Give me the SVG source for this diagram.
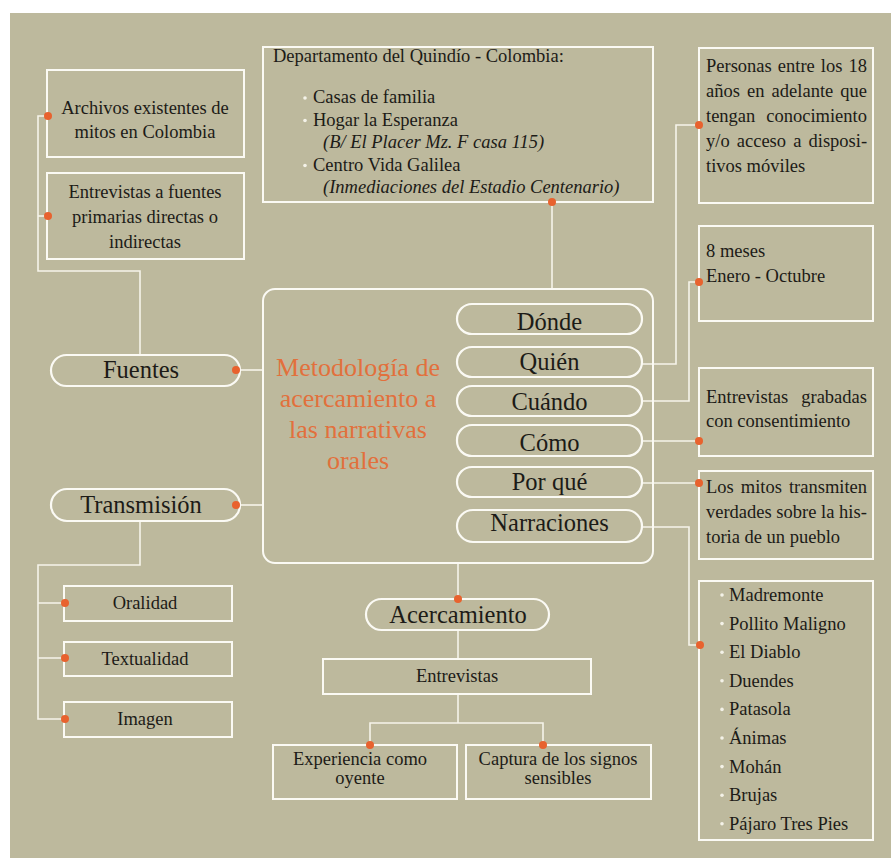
<svg xmlns="http://www.w3.org/2000/svg" width="891" height="858" viewBox="0 0 891 858">
<style>
.bg{fill:#bdb99d}
.box{fill:none;stroke:#fbfaf4;stroke-width:2}
.pill{fill:none;stroke:#fbfaf4;stroke-width:2.2}
.con{fill:none;stroke:#f6f4ea;stroke-width:1.6}
.dot{fill:#e8622e}
.t{font-family:"Liberation Serif","Times New Roman",serif;font-size:18.5px;fill:#1c1b17}
.c{text-anchor:middle}
.big{font-size:24.5px}
.it{font-style:italic}
.title{font-family:"Liberation Serif","Times New Roman",serif;font-size:26px;fill:#e2703c;text-anchor:middle}
.bul{fill:#f4f2e8}
</style>
<rect x="0" y="0" width="891" height="858" fill="#ffffff"/>
<rect class="bg" x="10" y="13" width="881" height="845"/>

<g id="connectors">
<path class="con" d="M48,116 H38 V271 H140 V355"/>
<path class="con" d="M38,216 H48"/>
<path class="con" d="M236,370 H263"/>
<path class="con" d="M236,505 H263"/>
<path class="con" d="M140,521 V565 H38 V719 H65"/>
<path class="con" d="M38,603 H65 M38,658 H65"/>
<path class="con" d="M552,202 V289"/>
<path class="con" d="M642,364 H676 V125 H699"/>
<path class="con" d="M642,401 H689 V282 H699"/>
<path class="con" d="M642,441 H699"/>
<path class="con" d="M642,483 H699"/>
<path class="con" d="M642,527 H689 V645 H699"/>
<path class="con" d="M458,563 V599 M458,630 V659 M458,694 V723 M370,745 V723 H543 V745"/>
</g>

<g id="archivos">
<rect class="box" x="47" y="70" width="197" height="87"/>
<text class="t c" x="145" y="114">Archivos existentes de</text>
<text class="t c" x="145" y="138">mitos en Colombia</text>
</g>
<g id="entrevistas-fuentes">
<rect class="box" x="47" y="173" width="197" height="86"/>
<text class="t c" x="145" y="198">Entrevistas a fuentes</text>
<text class="t c" x="145" y="223">primarias directas o</text>
<text class="t c" x="145" y="248">indirectas</text>
</g>

<g id="departamento">
<rect class="box" x="263" y="47" width="390" height="155"/>
<text class="t" x="273" y="62">Departamento del Quindío - Colombia:</text>
<circle class="bul" cx="305" cy="98" r="1.8"/>
<text class="t" x="313" y="103">Casas de familia</text>
<circle class="bul" cx="305" cy="120.5" r="1.8"/>
<text class="t" x="313" y="125.5">Hogar la Esperanza</text>
<text class="t it" x="323" y="148">(B/ El Placer Mz. F casa 115)</text>
<circle class="bul" cx="305" cy="165.5" r="1.8"/>
<text class="t" x="313" y="170.5">Centro Vida Galilea</text>
<text class="t it" x="323" y="193">(Inmediaciones del Estadio Centenario)</text>
</g>

<g id="personas">
<rect class="box" x="699" y="48" width="174" height="155"/>
<text class="t" x="706" y="72" word-spacing="1.4">Personas entre los 18</text>
<text class="t" x="706" y="97" word-spacing="2.5">años en adelante que</text>
<text class="t" x="706" y="122" word-spacing="6.3">tengan conocimiento</text>
<text class="t" x="706" y="147" word-spacing="2.5">y/o acceso a disposi-</text>
<text class="t" x="706" y="172">tivos móviles</text>
</g>

<g id="meses">
<rect class="box" x="699" y="226" width="174" height="95"/>
<text class="t" x="706" y="257">8 meses</text>
<text class="t" x="706" y="282">Enero - Octubre</text>
</g>

<g id="metodologia">
<rect class="box" x="263" y="289" width="390" height="274" rx="12"/>
<text class="title" x="358" y="376">Metodología de</text>
<text class="title" x="358" y="407">acercamiento a</text>
<text class="title" x="358" y="438">las narrativas</text>
<text class="title" x="358" y="469">orales</text>
</g>

<g id="donde">
<rect class="pill" x="457" y="304" width="185" height="30" rx="15"/>
<text class="t c big" x="549.5" y="330">Dónde</text>
</g>
<g id="quien">
<rect class="pill" x="457" y="347" width="185" height="30" rx="15"/>
<text class="t c big" x="549.5" y="370">Quién</text>
</g>
<g id="cuando">
<rect class="pill" x="457" y="386" width="185" height="30" rx="15"/>
<text class="t c big" x="549.5" y="410">Cuándo</text>
</g>
<g id="como">
<rect class="pill" x="457" y="425" width="185" height="31" rx="15"/>
<text class="t c big" x="549.5" y="451">Cómo</text>
</g>
<g id="porque">
<rect class="pill" x="457" y="467" width="185" height="30" rx="15"/>
<text class="t c big" x="549.5" y="490">Por qué</text>
</g>
<g id="narraciones">
<rect class="pill" x="457" y="510" width="185" height="32" rx="16"/>
<text class="t c big" x="549.5" y="531">Narraciones</text>
</g>

<g id="fuentes">
<rect class="pill" x="51" y="355" width="189" height="31" rx="15.5"/>
<text class="t c big" x="141" y="378">Fuentes</text>
</g>
<g id="transmision">
<rect class="pill" x="51" y="489" width="189" height="32" rx="16"/>
<text class="t c big" x="141" y="513">Transmisión</text>
</g>

<g id="oralidad">
<rect class="box" x="64" y="586" width="168" height="35"/>
<text class="t c" x="145" y="609">Oralidad</text>
</g>
<g id="textualidad">
<rect class="box" x="64" y="642" width="168" height="34"/>
<text class="t c" x="145" y="665">Textualidad</text>
</g>
<g id="imagen">
<rect class="box" x="64" y="702" width="168" height="35"/>
<text class="t c" x="145" y="725">Imagen</text>
</g>

<g id="entrevistas-grabadas">
<rect class="box" x="699" y="368" width="174" height="88"/>
<text class="t" x="706" y="403" word-spacing="8.4">Entrevistas grabadas</text>
<text class="t" x="706" y="427">con consentimiento</text>
</g>

<g id="los-mitos">
<rect class="box" x="699" y="471" width="174" height="88"/>
<text class="t" x="706" y="493" word-spacing="2.4">Los mitos transmiten</text>
<text class="t" x="706" y="518">verdades sobre la his-</text>
<text class="t" x="706" y="543">toria de un pueblo</text>
</g>

<g id="lista-mitos">
<rect class="box" x="699" y="581" width="174" height="259"/>
<circle class="bul" cx="722" cy="595" r="1.8"/>
<text class="t" x="729" y="601">Madremonte</text>
<circle class="bul" cx="722" cy="623.6" r="1.8"/>
<text class="t" x="729" y="629.6">Pollito Maligno</text>
<circle class="bul" cx="722" cy="652.2" r="1.8"/>
<text class="t" x="729" y="658.2">El Diablo</text>
<circle class="bul" cx="722" cy="680.8" r="1.8"/>
<text class="t" x="729" y="686.8">Duendes</text>
<circle class="bul" cx="722" cy="709.4" r="1.8"/>
<text class="t" x="729" y="715.4">Patasola</text>
<circle class="bul" cx="722" cy="738" r="1.8"/>
<text class="t" x="729" y="744">Ánimas</text>
<circle class="bul" cx="722" cy="766.6" r="1.8"/>
<text class="t" x="729" y="772.6">Mohán</text>
<circle class="bul" cx="722" cy="795.2" r="1.8"/>
<text class="t" x="729" y="801.2">Brujas</text>
<circle class="bul" cx="722" cy="823.8" r="1.8"/>
<text class="t" x="729" y="829.8">Pájaro Tres Pies</text>
</g>

<g id="acercamiento">
<rect class="pill" x="366" y="599" width="183" height="31" rx="15.5"/>
<text class="t c big" x="458" y="623">Acercamiento</text>
</g>
<g id="entrevistas">
<rect class="box" x="323" y="659" width="268" height="35"/>
<text class="t c" x="457" y="682">Entrevistas</text>
</g>
<g id="experiencia">
<rect class="box" x="273" y="745" width="184" height="54"/>
<text class="t c" x="360" y="765">Experiencia como</text>
<text class="t c" x="360" y="784">oyente</text>
</g>
<g id="captura">
<rect class="box" x="466" y="745" width="185" height="54"/>
<text class="t c" x="558" y="765">Captura de los signos</text>
<text class="t c" x="558" y="784">sensibles</text>
</g>

<g id="dots">
<circle class="dot" cx="48" cy="116" r="4"/>
<circle class="dot" cx="48" cy="216" r="4"/>
<circle class="dot" cx="236" cy="370" r="4"/>
<circle class="dot" cx="236" cy="505" r="4"/>
<circle class="dot" cx="552" cy="202" r="4"/>
<circle class="dot" cx="699" cy="125" r="4"/>
<circle class="dot" cx="699" cy="282" r="4"/>
<circle class="dot" cx="699" cy="441" r="4"/>
<circle class="dot" cx="699" cy="483" r="4"/>
<circle class="dot" cx="700" cy="645" r="4"/>
<circle class="dot" cx="65" cy="603" r="4"/>
<circle class="dot" cx="65" cy="658" r="4"/>
<circle class="dot" cx="65" cy="719" r="4"/>
<circle class="dot" cx="458" cy="599" r="4"/>
<circle class="dot" cx="370" cy="745" r="4"/>
<circle class="dot" cx="543" cy="745" r="4"/>
</g>
</svg>
